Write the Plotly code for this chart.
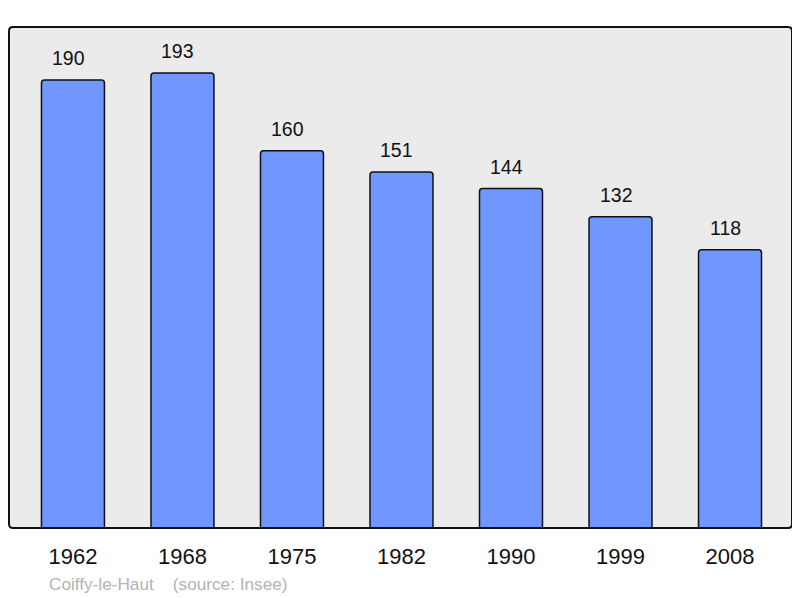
import plotly.graph_objects as go

years = ["1962", "1968", "1975", "1982", "1990", "1999", "2008"]
population = [190, 193, 160, 151, 144, 132, 118]
source_text = "Coiffy-le-Haut    (source: Insee)"

# page body has an 8px margin, so the figure is drawn at (8, 8)
W, H = 792, 590
L, R, T, B = 1, 8, 19, 70
PW, PH = W - L - R, H - T - B

fig = go.Figure()
fig.add_trace(go.Bar(
    x=list(range(len(years))), y=population,
    width=0.575,
    marker=dict(color="#7097ff", line=dict(color="#111111", width=1.5), cornerradius=3),
    hoverinfo="skip",
))

for i, v in enumerate(population):
    fig.add_annotation(x=i, y=v, text=str(v), showarrow=False, yanchor="bottom",
                       yshift=9, xshift=-4.5,
                       font=dict(size=19.5, color="#111111", family="Liberation Sans, Arial"))

fig.add_annotation(xref="paper", yref="paper", x=(39 - L) / PW, y=-(576 - (H - B)) / PH,
                   xanchor="left", yanchor="middle", text=source_text, showarrow=False,
                   font=dict(size=17.2, color="#b3b3b3", family="Liberation Sans, Arial"))

rx, ry = 4 / PW, 4 / PH
path = (f"M {rx},0 L {1-rx},0 Q 1,0 1,{ry} L 1,{1-ry} Q 1,1 {1-rx},1 "
        f"L {rx},1 Q 0,1 0,{1-ry} L 0,{ry} Q 0,0 {rx},0 Z")
fig.add_shape(type="path", xref="paper", yref="paper", path=path,
              line=dict(color="#111111", width=2), layer="above")

fig.update_layout(
    width=W, height=H,
    margin=dict(l=L, r=R, t=T, b=B),
    paper_bgcolor="white", plot_bgcolor="#ebebeb",
    showlegend=False,
    font=dict(family="Liberation Sans, Arial", color="#111111"),
    xaxis=dict(range=[-0.584, 6.566], tickmode="array", tickvals=list(range(len(years))),
               ticktext=years, showgrid=False, zeroline=False, showline=False,
               ticks="", tickfont=dict(size=22, color="#111111"), ticklabelstandoff=13, fixedrange=True),
    yaxis=dict(range=[0, 212.5], showgrid=False, zeroline=False, showline=False,
               showticklabels=False, ticks="", fixedrange=True),
)

fig.write_html("out.html")
